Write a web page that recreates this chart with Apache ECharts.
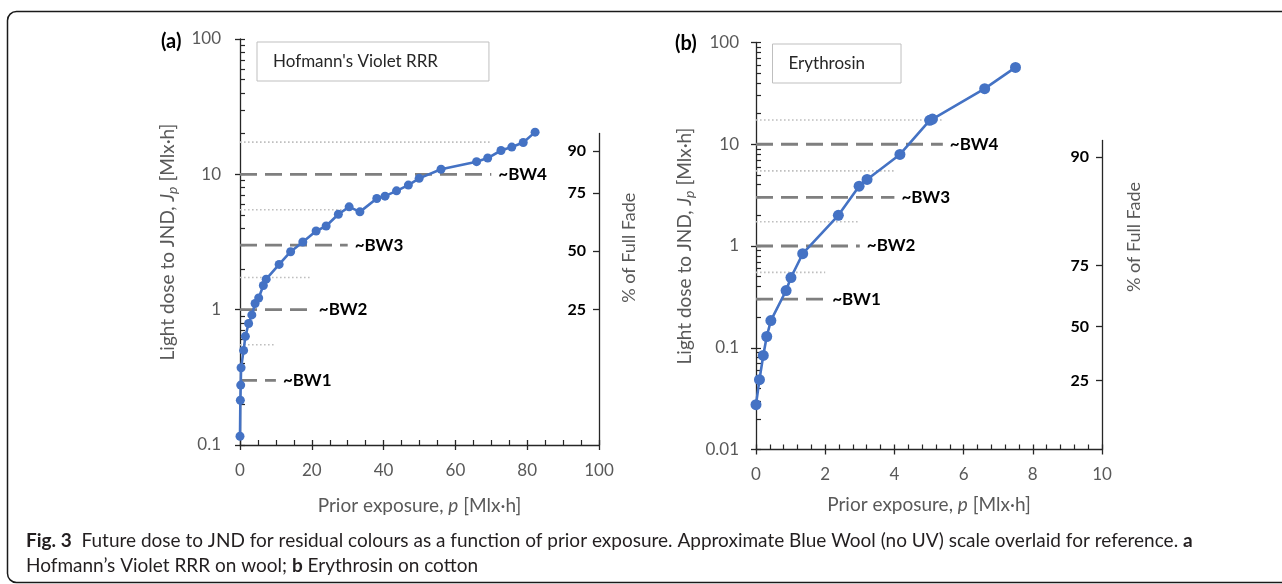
<!DOCTYPE html>
<html>
<head>
<meta charset="utf-8">
<script src="https://cdn.jsdelivr.net/npm/echarts@6/dist/echarts.min.js"></script>
<style>
  html, body { margin: 0; padding: 0; background: #fff; }
  #chart { width: 1282px; height: 584px; }
</style>
</head>
<body>
<div id="chart"></div>
<script>
// (a) Hofmann's Violet RRR on wool: prior exposure p [Mlx·h] vs dose to JND J_p [Mlx·h]
const violetExposure = [0, 0.1, 0.2, 0.3, 1.0, 1.5, 2.4, 3.3, 4.2, 5.2, 6.5, 7.3, 10.9, 14.1, 17.5, 21.2, 24.0, 27.4, 30.4, 33.4, 38.1, 40.4, 43.6, 46.9, 49.9, 56.0, 65.9, 69.0, 72.7, 75.7, 78.9, 82.2];
const violetDose     = [0.116, 0.214, 0.277, 0.372, 0.50, 0.635, 0.79, 0.915, 1.11, 1.22, 1.51, 1.68, 2.16, 2.68, 3.16, 3.81, 4.15, 5.07, 5.75, 5.28, 6.63, 6.90, 7.55, 8.33, 9.34, 10.9, 12.4, 13.2, 15.0, 15.9, 17.2, 20.5];

// (b) Erythrosin on cotton
const erythExposure = [0, 0.10, 0.21, 0.31, 0.43, 0.87, 1.01, 1.35, 2.38, 2.98, 3.21, 4.16, 5.02, 5.10, 6.61, 7.50];
const erythDose     = [0.0276, 0.0486, 0.084, 0.129, 0.185, 0.365, 0.49, 0.84, 2.0, 3.87, 4.51, 7.94, 17.2, 17.7, 35.2, 56.9];

// Approximate Blue Wool (no UV) levels and the midpoints between them
const bwNames   = ['~BW1', '~BW2', '~BW3', '~BW4'];
const bwDose    = [0.3, 1, 3, 10];
const bwMidDose = [0.55, 1.73, 5.48, 17.3];
const violetBwEnd = [10, 20, 30, 70];
const erythBwEnd  = [2, 3, 4, 5.4];

// Secondary scale: % of full fade reached at a given dose
const fadePct        = [25, 50, 75, 90];
const violetFadeDose = [1.0, 2.71, 7.28, 14.8];
const erythFadeDose  = [0.0475, 0.161, 0.643, 7.48];
const violetFadeTop  = 20;
const erythFadeTop   = 10.9;

// Axis extents
const violetXMax = 100, violetXStep = 20;
const erythXMax  = 10,  erythXStep  = 2;
const violetYMin = 0.1, violetYMax = 100;
const erythYMin  = 0.01, erythYMax = 100;

const FONT = 'Lato';
const GRAY = '#595959';
const AXIS = '#262626';
const BLUE = '#4472C4';

function pairs(xs, ys) { return xs.map((x, i) => [x, ys[i]]); }

// 1..9 × 10^e tick positions across the log range
function logTickValues(lo, hi) {
  const out = [];
  const e0 = Math.round(Math.log10(lo)), e1 = Math.round(Math.log10(hi));
  for (let e = e0; e < e1; e++) {
    for (let k = 1; k < 10; k++) out.push(+(k * Math.pow(10, e)).toPrecision(3));
  }
  out.push(hi);
  return out;
}

const xName = {
  name: 'Prior exposure, {i|p} [Mlx·h]',
  nameLocation: 'middle',
  nameTextStyle: {
    fontFamily: FONT, fontSize: 19, color: GRAY,
    rich: { i: { fontFamily: FONT, fontSize: 19, color: GRAY, fontStyle: 'italic' } }
  }
};

const yNameStyle = {
  fontFamily: FONT, fontSize: 19, color: GRAY, lineHeight: 22,
  rich: {
    i: { fontFamily: FONT, fontSize: 19, color: GRAY, fontStyle: 'italic', lineHeight: 22 },
    s: { fontFamily: FONT, fontSize: 14, color: GRAY, fontStyle: 'italic', lineHeight: 14, verticalAlign: 'bottom', padding: [6, 0, 0, 0] }
  }
};

function xAxes(grid, max, step, minorSplit, gap) {
  return [
    Object.assign({
      type: 'value', gridIndex: grid, min: 0, max: max, interval: step, position: 'bottom',
      axisLine: { onZero: false, lineStyle: { color: AXIS, width: 1.3 } },
      axisTick: { length: 5, lineStyle: { color: AXIS, width: 1.3 } },
      axisLabel: { margin: 17, color: GRAY, fontFamily: FONT, fontSize: 17 },
      splitLine: { show: false },
      nameGap: gap
    }, xName),
    {
      type: 'value', gridIndex: grid, min: 0, max: max, interval: step, position: 'bottom', offset: 0,
      axisLine: { show: false, onZero: false }, axisLabel: { show: false }, splitLine: { show: false },
      axisTick: { inside: true, length: 5, lineStyle: { color: AXIS, width: 1.3 } },
      minorTick: { show: true, splitNumber: minorSplit, length: 5, lineStyle: { color: AXIS, width: 1.2 } }
    }
  ];
}

function yAxes(grid, min, max, labelMargin, gap) {
  return [
    {
      type: 'log', logBase: 10, gridIndex: grid, min: min, max: max, position: 'left',
      axisLine: { onZero: false, lineStyle: { color: AXIS, width: 1.3 } },
      axisTick: { length: 5, lineStyle: { color: AXIS, width: 1.3 } },
      axisLabel: { margin: labelMargin, color: GRAY, fontFamily: FONT, fontSize: 17,
                   formatter: v => String(+v.toPrecision(3)) },
      splitLine: { show: false },
      name: 'Light dose to JND, {i|J}{s|p} [Mlx·h]',
      nameLocation: 'middle', nameRotate: 90, nameGap: gap,
      nameTextStyle: yNameStyle
    },
    {
      type: 'log', logBase: 10, gridIndex: grid, min: min, max: max, position: 'left', offset: 0,
      axisLine: { show: false, onZero: false }, axisLabel: { show: false }, splitLine: { show: false },
      axisTick: { inside: true, length: 5, customValues: logTickValues(min, max),
                  lineStyle: { color: AXIS, width: 1.2 } }
    }
  ];
}

function fadeAxis(grid, min, top, doses, shift, gap) {
  return {
    type: 'log', logBase: 10, gridIndex: grid, min: min, max: top, position: 'right',
    axisLine: { show: true, onZero: false, lineStyle: { color: AXIS, width: 1.3 } },
    axisTick: { show: true, inside: true, length: 6, customValues: doses, lineStyle: { color: AXIS, width: 1.3 } },
    axisLabel: {
      inside: true, margin: 13, customValues: doses,
      color: '#000', fontFamily: FONT, fontSize: 16, fontWeight: 'bold',
      formatter: v => {
        let best = 0;
        doses.forEach((d, i) => {
          if (Math.abs(Math.log10(d) - Math.log10(v)) < Math.abs(Math.log10(doses[best]) - Math.log10(v))) best = i;
        });
        return String(fadePct[best]);
      }
    },
    splitLine: { show: false },
    name: '% of Full Fade', nameLocation: 'middle', nameRotate: 90, nameGap: gap,
    nameTextStyle: { fontFamily: FONT, fontSize: 18, color: GRAY, padding: [0, 0, 0, shift] }
  };
}

function hiddenX(grid) {
  return { type: 'value', gridIndex: grid, min: 0, max: 1, show: false };
}

// Blue Wool reference lines for one panel
function bwSeries(xIdx, yIdx, ends) {
  const out = [];
  bwDose.forEach((d, i) => {
    out.push({
      type: 'line', name: bwNames[i], xAxisIndex: xIdx, yAxisIndex: yIdx,
      data: [[0, d], [ends[i], d]], showSymbol: false, silent: true, z: 2,
      lineStyle: { color: '#7f7f7f', width: 2.8, type: [17, 8] },
      endLabel: { show: true, formatter: bwNames[i], distance: 7,
                  fontFamily: FONT, fontSize: 17, fontWeight: 'bold', color: '#000' }
    });
    out.push({
      type: 'line', name: bwNames[i] + ' mid', xAxisIndex: xIdx, yAxisIndex: yIdx,
      data: [[0, bwMidDose[i]], [ends[i], bwMidDose[i]]], showSymbol: false, silent: true, z: 2,
      lineStyle: { color: '#bfbfbf', width: 1.6, type: [1.6, 2.4] }
    });
  });
  return out;
}

function dataSeries(name, xIdx, yIdx, xs, ys, size) {
  return {
    type: 'line', name: name, xAxisIndex: xIdx, yAxisIndex: yIdx,
    data: pairs(xs, ys), z: 5,
    symbol: 'circle', symbolSize: size, showAllSymbol: true,
    itemStyle: { color: BLUE }, lineStyle: { color: BLUE, width: 2.6 }
  };
}

function legendBox(name, left, top, padRight) {
  return {
    data: [{ name: name, icon: 'none' }],
    left: left, top: top, orient: 'horizontal',
    itemWidth: 0, itemHeight: 17, itemGap: 0,
    padding: [11, padRight, 11, 11],
    borderColor: '#bfbfbf', borderWidth: 1,
    selectedMode: false,
    textStyle: { fontFamily: FONT, fontSize: 17, color: '#262626' }
  };
}

const gridBase = { outerBoundsMode: 'none', containLabel: false };

const option = {
  animation: false,
  backgroundColor: '#fff',
  grid: [
    Object.assign({ left: 240, right: 683, top: 39, bottom: 139 }, gridBase),
    Object.assign({ left: 240, right: 683, top: 133.5, bottom: 139 }, gridBase),
    Object.assign({ left: 756, right: 180, top: 42.5, bottom: 134.5 }, gridBase),
    Object.assign({ left: 756, right: 180, top: 140.5, bottom: 134.5 }, gridBase)
  ],
  xAxis: [
    ...xAxes(0, violetXMax, violetXStep, 4, 51),
    hiddenX(1),
    ...xAxes(2, erythXMax, erythXStep, 5, 46),
    hiddenX(3)
  ],
  yAxis: [
    ...yAxes(0, violetYMin, violetYMax, 19, 61),
    fadeAxis(1, violetYMin, violetFadeTop, violetFadeDose, 83, 21),
    ...yAxes(2, erythYMin, erythYMax, 17, 60),
    fadeAxis(3, erythYMin, erythFadeTop, erythFadeDose, 116, 23)
  ],
  legend: [
    legendBox("Hofmann's Violet RRR", 257, 42, 51),
    legendBox('Erythrosin', 772.5, 44, 36)
  ],
  title: [
    { text: '(a)', left: 156, top: 27, textStyle: { fontFamily: FONT, fontSize: 20, fontWeight: 'bold', color: '#000' } },
    { text: '(b)', left: 670, top: 29, textStyle: { fontFamily: FONT, fontSize: 20, fontWeight: 'bold', color: '#000' } },
    {
      text: '{b|Fig. 3}  Future dose to JND for residual colours as a function of prior exposure. Approximate Blue Wool (no UV) scale overlaid for reference. {b|a}\nHofmann\u2019s Violet RRR on wool; {b|b} Erythrosin on cotton',
      left: 21, top: 523,
      textStyle: {
        fontFamily: FONT, fontSize: 19, fontWeight: 'normal', color: '#231f20', lineHeight: 25,
        rich: { b: { fontFamily: FONT, fontSize: 19, fontWeight: 'bold', color: '#231f20', lineHeight: 25 } }
      }
    }
  ],
  graphic: [{
    type: 'rect', silent: true, z: -1,
    shape: { x: 7.5, y: 11.5, width: 1300, height: 571, r: 9 },
    style: { fill: 'none', stroke: '#1a1a1a', lineWidth: 1.5 }
  }],
  series: [
    ...bwSeries(0, 0, violetBwEnd),
    dataSeries("Hofmann's Violet RRR", 0, 0, violetExposure, violetDose, 9),
    ...bwSeries(3, 3, erythBwEnd),
    dataSeries('Erythrosin', 3, 3, erythExposure, erythDose, 11)
  ]
};

const chart = echarts.init(document.getElementById('chart'), null, { renderer: 'canvas' });
chart.setOption(option);
</script>
</body>
</html>
